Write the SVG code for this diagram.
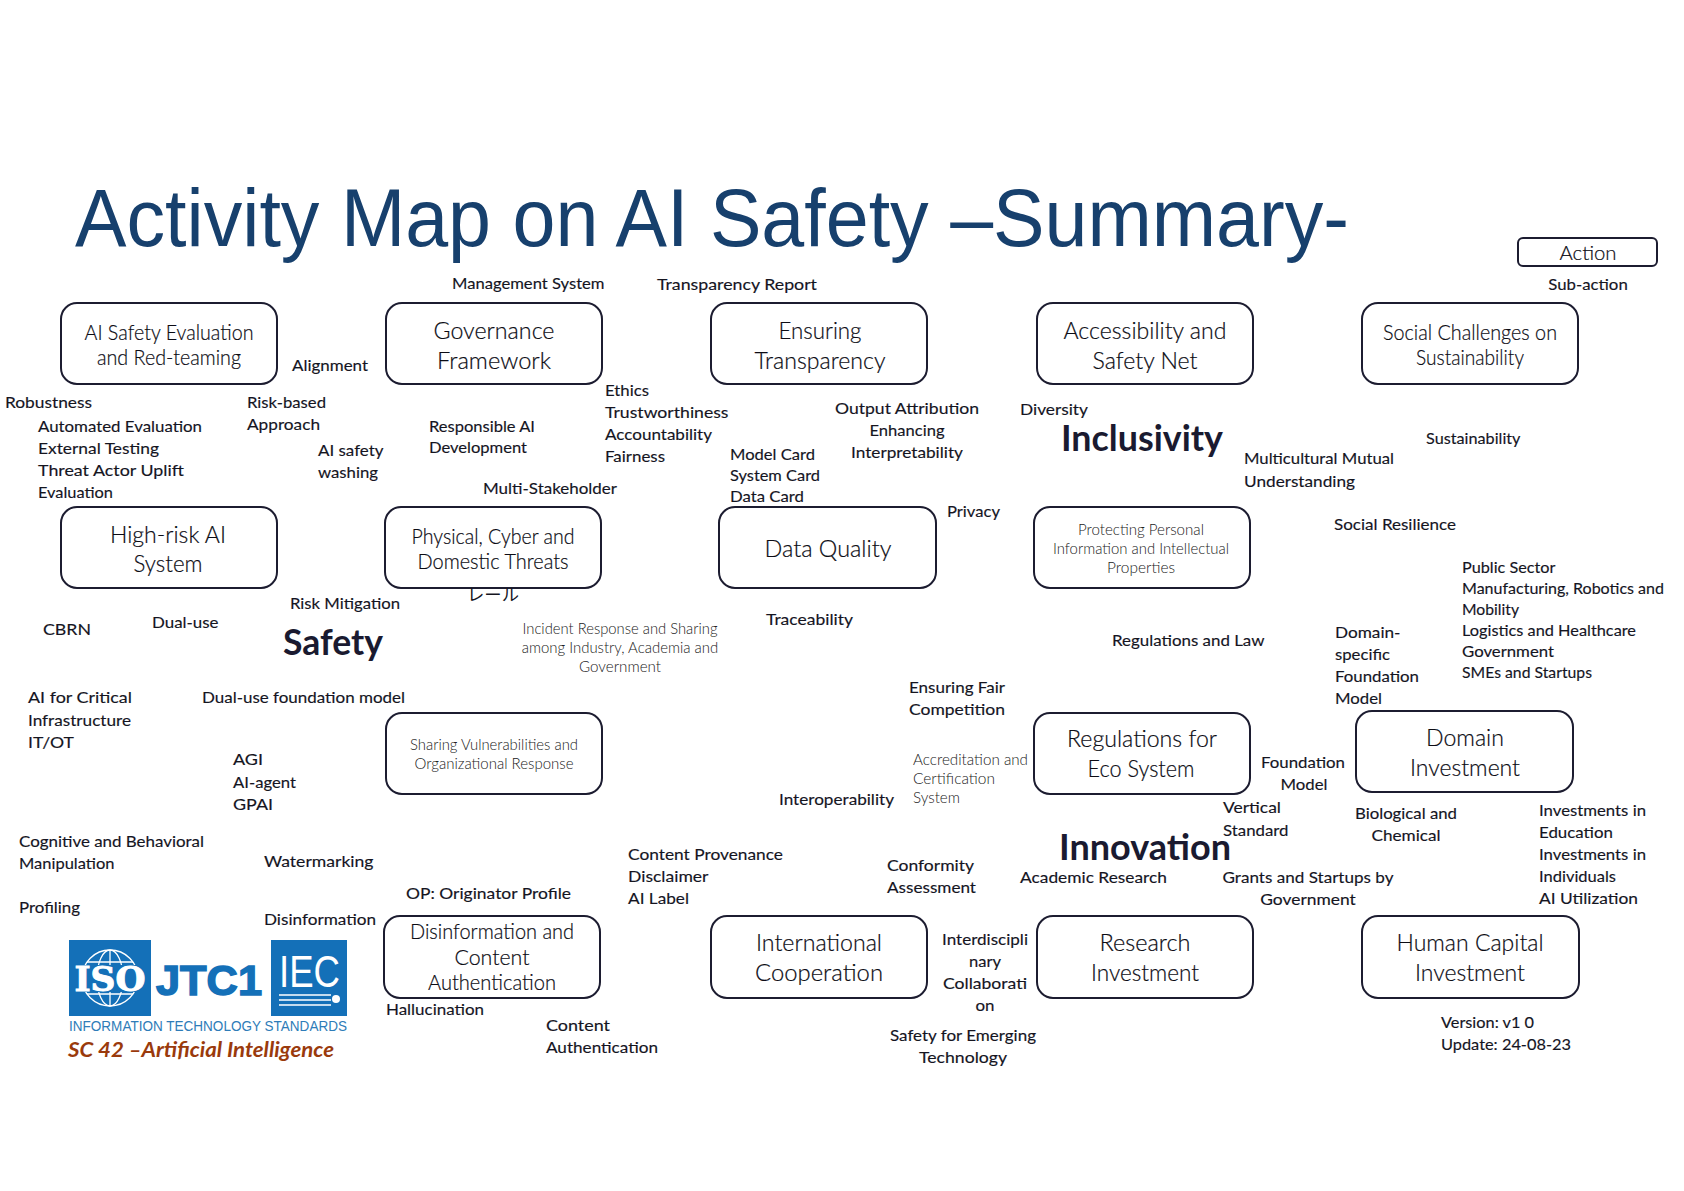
<svg xmlns="http://www.w3.org/2000/svg" width="1684" height="1191" viewBox="0 0 1684 1191">
<style>
text{font-family:"Lato","Noto Sans",sans-serif;fill:#15151f}
.b{fill:#fff;stroke:#1c1c30;stroke-width:2}
.t{font-size:24px;text-anchor:middle;font-weight:300;fill:#0c0c14;stroke:#0c0c14;stroke-width:.2}
.m{font-size:22px;text-anchor:middle;font-weight:300;fill:#0c0c14;stroke:#0c0c14;stroke-width:.2}
.s{font-size:15px;text-anchor:middle;fill:#222;font-weight:300}
.l{font-size:16px;stroke:#15151f;stroke-width:.15}
.c{text-anchor:middle}
.h{font-size:36px;font-weight:700;fill:#1a1a30;text-anchor:middle}
.n{font-size:15px;fill:#222;font-weight:300}
</style>
<text x="75" y="246" textLength="1274" lengthAdjust="spacingAndGlyphs" style="font-family:'Liberation Sans',sans-serif;font-size:82px;fill:#17406d">Activity Map on AI Safety –Summary-</text>

<g id="node-action"><rect class="b" x="1518" y="238" width="139" height="28" rx="5"/><text class="m" x="1588" y="260" textLength="57" lengthAdjust="spacingAndGlyphs" style="font-size:20px">Action</text></g>
<g id="node-ai-safety-eval"><rect class="b" x="61" y="303" width="216" height="81" rx="16"/><text class="m" x="169" y="340" textLength="169" lengthAdjust="spacingAndGlyphs">AI Safety Evaluation</text><text class="m" x="169" y="365" textLength="144" lengthAdjust="spacingAndGlyphs">and Red-teaming</text></g>
<g id="node-governance"><rect class="b" x="386" y="303" width="216" height="81" rx="16"/><text class="t" x="494" y="339" textLength="121" lengthAdjust="spacingAndGlyphs">Governance</text><text class="t" x="494" y="369" textLength="114" lengthAdjust="spacingAndGlyphs">Framework</text></g>
<g id="node-transparency"><rect class="b" x="711" y="303" width="216" height="81" rx="16"/><text class="t" x="820" y="339" textLength="83" lengthAdjust="spacingAndGlyphs">Ensuring</text><text class="t" x="820" y="369" textLength="131" lengthAdjust="spacingAndGlyphs">Transparency</text></g>
<g id="node-accessibility"><rect class="b" x="1037" y="303" width="216" height="81" rx="16"/><text class="t" x="1145" y="339" textLength="163" lengthAdjust="spacingAndGlyphs">Accessibility and</text><text class="t" x="1145" y="369" textLength="105" lengthAdjust="spacingAndGlyphs">Safety Net</text></g>
<g id="node-social"><rect class="b" x="1362" y="303" width="216" height="81" rx="16"/><text class="m" x="1470" y="340" textLength="174" lengthAdjust="spacingAndGlyphs">Social Challenges on</text><text class="m" x="1470" y="365" textLength="108" lengthAdjust="spacingAndGlyphs">Sustainability</text></g>
<g id="node-high-risk"><rect class="b" x="61" y="507" width="216" height="81" rx="16"/><text class="t" x="168" y="543" textLength="116" lengthAdjust="spacingAndGlyphs">High-risk AI</text><text class="t" x="168" y="572" textLength="69" lengthAdjust="spacingAndGlyphs">System</text></g>
<g id="node-physical"><rect class="b" x="385" y="507" width="216" height="81" rx="16"/><text class="m" x="493" y="544" textLength="163" lengthAdjust="spacingAndGlyphs">Physical, Cyber and</text><text class="m" x="493" y="569" textLength="151" lengthAdjust="spacingAndGlyphs">Domestic Threats</text></g>
<g id="node-data-quality"><rect class="b" x="719" y="507" width="217" height="81" rx="16"/><text class="t" x="828" y="557" textLength="127" lengthAdjust="spacingAndGlyphs">Data Quality</text></g>
<g id="node-protecting"><rect class="b" x="1034" y="507" width="216" height="81" rx="16"/><text class="s" x="1141" y="535" textLength="126" lengthAdjust="spacingAndGlyphs">Protecting Personal</text><text class="s" x="1141" y="554" textLength="176" lengthAdjust="spacingAndGlyphs">Information and Intellectual</text><text class="s" x="1141" y="573" textLength="68" lengthAdjust="spacingAndGlyphs">Properties</text></g>
<g id="node-sharing"><rect class="b" x="386" y="713" width="216" height="81" rx="16"/><text class="s" x="494" y="750" textLength="168" lengthAdjust="spacingAndGlyphs">Sharing Vulnerabilities and</text><text class="s" x="494" y="769" textLength="159" lengthAdjust="spacingAndGlyphs">Organizational Response</text></g>
<g id="node-regulations"><rect class="b" x="1034" y="713" width="216" height="81" rx="16"/><text class="t" x="1142" y="747" textLength="150" lengthAdjust="spacingAndGlyphs">Regulations for</text><text class="t" x="1141" y="777" textLength="107" lengthAdjust="spacingAndGlyphs">Eco System</text></g>
<g id="node-domain"><rect class="b" x="1356" y="711" width="217" height="81" rx="16"/><text class="t" x="1465" y="746" textLength="78" lengthAdjust="spacingAndGlyphs">Domain</text><text class="t" x="1465" y="776" textLength="110" lengthAdjust="spacingAndGlyphs">Investment</text></g>
<g id="node-disinformation"><rect class="b" x="384" y="916" width="216" height="82" rx="16"/><text class="m" x="492" y="939" textLength="164" lengthAdjust="spacingAndGlyphs">Disinformation and</text><text class="m" x="492" y="965" textLength="75" lengthAdjust="spacingAndGlyphs">Content</text><text class="m" x="492" y="990" textLength="128" lengthAdjust="spacingAndGlyphs">Authentication</text></g>
<g id="node-international"><rect class="b" x="711" y="916" width="216" height="82" rx="16"/><text class="t" x="819" y="951" textLength="126" lengthAdjust="spacingAndGlyphs">International</text><text class="t" x="819" y="981" textLength="128" lengthAdjust="spacingAndGlyphs">Cooperation</text></g>
<g id="node-research"><rect class="b" x="1037" y="916" width="216" height="82" rx="16"/><text class="t" x="1145" y="951" textLength="91" lengthAdjust="spacingAndGlyphs">Research</text><text class="t" x="1145" y="981" textLength="108" lengthAdjust="spacingAndGlyphs">Investment</text></g>
<g id="node-human"><rect class="b" x="1362" y="916" width="217" height="82" rx="16"/><text class="t" x="1470" y="951" textLength="147" lengthAdjust="spacingAndGlyphs">Human Capital</text><text class="t" x="1470" y="981" textLength="110" lengthAdjust="spacingAndGlyphs">Investment</text></g>
<g id="connectors"></g>

<g id="headings">
<text class="h" x="333" y="655" textLength="100" lengthAdjust="spacingAndGlyphs">Safety</text>
<text class="h" x="1142" y="451" textLength="162" lengthAdjust="spacingAndGlyphs">Inclusivity</text>
<text class="h" x="1145" y="860" textLength="172" lengthAdjust="spacingAndGlyphs">Innovation</text>
</g>

<g id="labels">
<text class="l" x="452" y="289" textLength="152.5" lengthAdjust="spacingAndGlyphs">Management System</text>
<text class="l" x="657" y="290" textLength="160" lengthAdjust="spacingAndGlyphs">Transparency Report</text>
<text class="l c" x="1588" y="290" textLength="79.5" lengthAdjust="spacingAndGlyphs">Sub-action</text>
<text class="l" x="292" y="371" textLength="76" lengthAdjust="spacingAndGlyphs">Alignment</text>
<text class="l" x="5" y="408" textLength="87" lengthAdjust="spacingAndGlyphs">Robustness</text>
<text class="l" x="38" y="432" textLength="164" lengthAdjust="spacingAndGlyphs">Automated Evaluation</text>
<text class="l" x="38" y="454" textLength="121" lengthAdjust="spacingAndGlyphs">External Testing</text>
<text class="l" x="38" y="476" textLength="146" lengthAdjust="spacingAndGlyphs">Threat Actor Uplift</text>
<text class="l" x="38" y="498" textLength="75" lengthAdjust="spacingAndGlyphs">Evaluation</text>
<text class="l" x="247" y="408" textLength="79" lengthAdjust="spacingAndGlyphs">Risk-based</text>
<text class="l" x="247" y="430" textLength="73" lengthAdjust="spacingAndGlyphs">Approach</text>
<text class="l" x="318" y="456" textLength="65.5" lengthAdjust="spacingAndGlyphs">AI safety</text>
<text class="l" x="318" y="478" textLength="60" lengthAdjust="spacingAndGlyphs">washing</text>
<text class="l" x="429" y="432" textLength="106" lengthAdjust="spacingAndGlyphs">Responsible AI</text>
<text class="l" x="429" y="453" textLength="98" lengthAdjust="spacingAndGlyphs">Development</text>
<text class="l" x="483" y="494" textLength="134" lengthAdjust="spacingAndGlyphs">Multi-Stakeholder</text>
<text class="l" x="605" y="396" textLength="44" lengthAdjust="spacingAndGlyphs">Ethics</text>
<text class="l" x="605" y="418" textLength="123.5" lengthAdjust="spacingAndGlyphs">Trustworthiness</text>
<text class="l" x="605" y="440" textLength="107" lengthAdjust="spacingAndGlyphs">Accountability</text>
<text class="l" x="605" y="462" textLength="60" lengthAdjust="spacingAndGlyphs">Fairness</text>
<text class="l c" x="907" y="414" textLength="144" lengthAdjust="spacingAndGlyphs">Output Attribution</text>
<text class="l c" x="907" y="436" textLength="75" lengthAdjust="spacingAndGlyphs">Enhancing</text>
<text class="l c" x="907" y="458" textLength="112" lengthAdjust="spacingAndGlyphs">Interpretability</text>
<text class="l" x="730" y="460" textLength="85" lengthAdjust="spacingAndGlyphs">Model Card</text>
<text class="l" x="730" y="481" textLength="90" lengthAdjust="spacingAndGlyphs">System Card</text>
<text class="l" x="730" y="502" textLength="74" lengthAdjust="spacingAndGlyphs">Data Card</text>
<text class="l" x="947" y="517" textLength="53" lengthAdjust="spacingAndGlyphs">Privacy</text>
<text class="l" x="1020" y="415" textLength="68" lengthAdjust="spacingAndGlyphs">Diversity</text>
<text class="l" x="1244" y="464" textLength="150" lengthAdjust="spacingAndGlyphs">Multicultural Mutual</text>
<text class="l" x="1244" y="487" textLength="111" lengthAdjust="spacingAndGlyphs">Understanding</text>
<text class="l" x="1426" y="444" textLength="94.5" lengthAdjust="spacingAndGlyphs">Sustainability</text>
<text class="l" x="1334" y="530" textLength="122" lengthAdjust="spacingAndGlyphs">Social Resilience</text>
<text class="l" x="1462" y="573" textLength="93.5" lengthAdjust="spacingAndGlyphs">Public Sector</text>
<text class="l" x="1462" y="594" textLength="202" lengthAdjust="spacingAndGlyphs">Manufacturing, Robotics and</text>
<text class="l" x="1462" y="615" textLength="57" lengthAdjust="spacingAndGlyphs">Mobility</text>
<text class="l" x="1462" y="636" textLength="174" lengthAdjust="spacingAndGlyphs">Logistics and Healthcare</text>
<text class="l" x="1462" y="657" textLength="92" lengthAdjust="spacingAndGlyphs">Government</text>
<text class="l" x="1462" y="678" textLength="130" lengthAdjust="spacingAndGlyphs">SMEs and Startups</text>
<text class="l" x="1335" y="638" textLength="65.5" lengthAdjust="spacingAndGlyphs">Domain-</text>
<text class="l" x="1335" y="660" textLength="55" lengthAdjust="spacingAndGlyphs">specific</text>
<text class="l" x="1335" y="682" textLength="84" lengthAdjust="spacingAndGlyphs">Foundation</text>
<text class="l" x="1335" y="704" textLength="47" lengthAdjust="spacingAndGlyphs">Model</text>
<text class="l" x="290" y="609" textLength="110" lengthAdjust="spacingAndGlyphs">Risk Mitigation</text>
<text x="493" y="601" textLength="52" lengthAdjust="spacingAndGlyphs" style="font-family:'Noto Sans CJK JP',sans-serif;font-size:17px;text-anchor:middle">レール</text>
<text class="l" x="43" y="635" textLength="48" lengthAdjust="spacingAndGlyphs">CBRN</text>
<text class="l" x="152" y="628" textLength="66.5" lengthAdjust="spacingAndGlyphs">Dual-use</text>
<text class="n c" x="620" y="634" textLength="195" lengthAdjust="spacingAndGlyphs">Incident Response and Sharing</text>
<text class="n c" x="620" y="653" textLength="196.5" lengthAdjust="spacingAndGlyphs">among Industry, Academia and</text>
<text class="n c" x="620" y="672" textLength="82" lengthAdjust="spacingAndGlyphs">Government</text>
<text class="l" x="766" y="625" textLength="87" lengthAdjust="spacingAndGlyphs">Traceability</text>
<text class="l" x="1112" y="646" textLength="152.5" lengthAdjust="spacingAndGlyphs">Regulations and Law</text>
<text class="l" x="909" y="693" textLength="96" lengthAdjust="spacingAndGlyphs">Ensuring Fair</text>
<text class="l" x="909" y="715" textLength="96" lengthAdjust="spacingAndGlyphs">Competition</text>
<text class="l" x="28" y="703" textLength="104" lengthAdjust="spacingAndGlyphs">AI for Critical</text>
<text class="l" x="28" y="726" textLength="103" lengthAdjust="spacingAndGlyphs">Infrastructure</text>
<text class="l" x="28" y="748" textLength="46" lengthAdjust="spacingAndGlyphs">IT/OT</text>
<text class="l" x="202" y="703" textLength="203" lengthAdjust="spacingAndGlyphs">Dual-use foundation model</text>
<text class="l" x="233" y="765" textLength="30" lengthAdjust="spacingAndGlyphs">AGI</text>
<text class="l" x="233" y="788" textLength="63" lengthAdjust="spacingAndGlyphs">AI-agent</text>
<text class="l" x="233" y="810" textLength="40" lengthAdjust="spacingAndGlyphs">GPAI</text>
<text class="n" x="913" y="765" textLength="115" lengthAdjust="spacingAndGlyphs">Accreditation and</text>
<text class="n" x="913" y="784" textLength="82" lengthAdjust="spacingAndGlyphs">Certification</text>
<text class="n" x="913" y="803" textLength="47" lengthAdjust="spacingAndGlyphs">System</text>
<text class="l" x="779" y="805" textLength="115" lengthAdjust="spacingAndGlyphs">Interoperability</text>
<text class="l c" x="1303" y="768" textLength="84" lengthAdjust="spacingAndGlyphs">Foundation</text>
<text class="l c" x="1304" y="790" textLength="47" lengthAdjust="spacingAndGlyphs">Model</text>
<text class="l" x="1223" y="813" textLength="58" lengthAdjust="spacingAndGlyphs">Vertical</text>
<text class="l" x="1223" y="836" textLength="65.5" lengthAdjust="spacingAndGlyphs">Standard</text>
<text class="l c" x="1406" y="819" textLength="102" lengthAdjust="spacingAndGlyphs">Biological and</text>
<text class="l c" x="1406" y="841" textLength="69" lengthAdjust="spacingAndGlyphs">Chemical</text>
<text class="l" x="1539" y="816" textLength="107" lengthAdjust="spacingAndGlyphs">Investments in</text>
<text class="l" x="1539" y="838" textLength="74" lengthAdjust="spacingAndGlyphs">Education</text>
<text class="l" x="1539" y="860" textLength="107" lengthAdjust="spacingAndGlyphs">Investments in</text>
<text class="l" x="1539" y="882" textLength="77" lengthAdjust="spacingAndGlyphs">Individuals</text>
<text class="l" x="1539" y="904" textLength="99" lengthAdjust="spacingAndGlyphs">AI Utilization</text>
<text class="l" x="19" y="847" textLength="185" lengthAdjust="spacingAndGlyphs">Cognitive and Behavioral</text>
<text class="l" x="19" y="869" textLength="95.5" lengthAdjust="spacingAndGlyphs">Manipulation</text>
<text class="l" x="19" y="913" textLength="61" lengthAdjust="spacingAndGlyphs">Profiling</text>
<text class="l" x="264" y="867" textLength="109.5" lengthAdjust="spacingAndGlyphs">Watermarking</text>
<text class="l" x="264" y="925" textLength="112" lengthAdjust="spacingAndGlyphs">Disinformation</text>
<text class="l" x="406" y="899" textLength="165" lengthAdjust="spacingAndGlyphs">OP: Originator Profile</text>
<text class="l" x="628" y="860" textLength="155" lengthAdjust="spacingAndGlyphs">Content Provenance</text>
<text class="l" x="628" y="882" textLength="80.5" lengthAdjust="spacingAndGlyphs">Disclaimer</text>
<text class="l" x="628" y="904" textLength="61" lengthAdjust="spacingAndGlyphs">AI Label</text>
<text class="l" x="887" y="871" textLength="87" lengthAdjust="spacingAndGlyphs">Conformity</text>
<text class="l" x="887" y="893" textLength="89" lengthAdjust="spacingAndGlyphs">Assessment</text>
<text class="l" x="1020" y="883" textLength="147" lengthAdjust="spacingAndGlyphs">Academic Research</text>
<text class="l c" x="1308" y="883" textLength="171" lengthAdjust="spacingAndGlyphs">Grants and Startups by</text>
<text class="l c" x="1308" y="905" textLength="95.5" lengthAdjust="spacingAndGlyphs">Government</text>
<text class="l c" x="985" y="945" textLength="86" lengthAdjust="spacingAndGlyphs">Interdiscipli</text>
<text class="l c" x="985" y="967" textLength="32" lengthAdjust="spacingAndGlyphs">nary</text>
<text class="l c" x="985" y="989" textLength="84" lengthAdjust="spacingAndGlyphs">Collaborati</text>
<text class="l c" x="985" y="1011" textLength="19" lengthAdjust="spacingAndGlyphs">on</text>
<text class="l" x="386" y="1015" textLength="98" lengthAdjust="spacingAndGlyphs">Hallucination</text>
<text class="l" x="546" y="1031" textLength="64" lengthAdjust="spacingAndGlyphs">Content</text>
<text class="l" x="546" y="1053" textLength="112" lengthAdjust="spacingAndGlyphs">Authentication</text>
<text class="l c" x="963" y="1041" textLength="146" lengthAdjust="spacingAndGlyphs">Safety for Emerging</text>
<text class="l c" x="963" y="1063" textLength="88" lengthAdjust="spacingAndGlyphs">Technology</text>
<text class="l" x="1441" y="1028" textLength="93" lengthAdjust="spacingAndGlyphs">Version: v1 0</text>
<text class="l" x="1441" y="1050" textLength="130" lengthAdjust="spacingAndGlyphs">Update: 24-08-23</text>
</g>

<g id="logo">
<rect x="69" y="940" width="82" height="76" fill="#1470b8"/>
<rect x="271" y="940" width="76" height="76" fill="#1470b8"/>
<g fill="none" stroke="#fff" stroke-width="1.3">
<circle cx="110" cy="978" r="28"/><ellipse cx="110" cy="978" rx="13" ry="28"/>
<path d="M87 962H133M87 994H133M110 950V1006"/>
</g>
<rect x="74" y="965" width="72" height="27" fill="#1470b8"/>
<text x="110" y="991" textLength="71" lengthAdjust="spacingAndGlyphs" style="font-family:'DejaVu Serif',serif;font-size:34px;font-weight:700;fill:#fff;stroke:#fff;stroke-width:1;text-anchor:middle">ISO</text>
<text x="156" y="995" textLength="106" lengthAdjust="spacingAndGlyphs" style="font-family:'Liberation Sans',sans-serif;font-size:42px;font-weight:700;fill:#1470b8;stroke:#1470b8;stroke-width:1.5">JTC1</text>
<text x="279" y="987" textLength="61" lengthAdjust="spacingAndGlyphs" style="font-family:'Liberation Sans',sans-serif;font-size:44px;fill:#fff">IEC</text>
<path d="M279 995H331M279 1000H331M279 1005H331" stroke="#fff" stroke-width="1.4" fill="none"/>
<circle cx="336" cy="999" r="4" fill="#fff"/>
<text x="69" y="1031" textLength="278" lengthAdjust="spacingAndGlyphs" style="font-family:'Liberation Sans',sans-serif;font-size:14.3px;fill:#2e7cb8">INFORMATION TECHNOLOGY STANDARDS</text>
<text x="68" y="1057" textLength="266" lengthAdjust="spacingAndGlyphs" style="font-size:20px;font-weight:700;font-style:italic;fill:#9a3a0c">SC 42 –Artificial Intelligence</text>
</g>
</svg>
